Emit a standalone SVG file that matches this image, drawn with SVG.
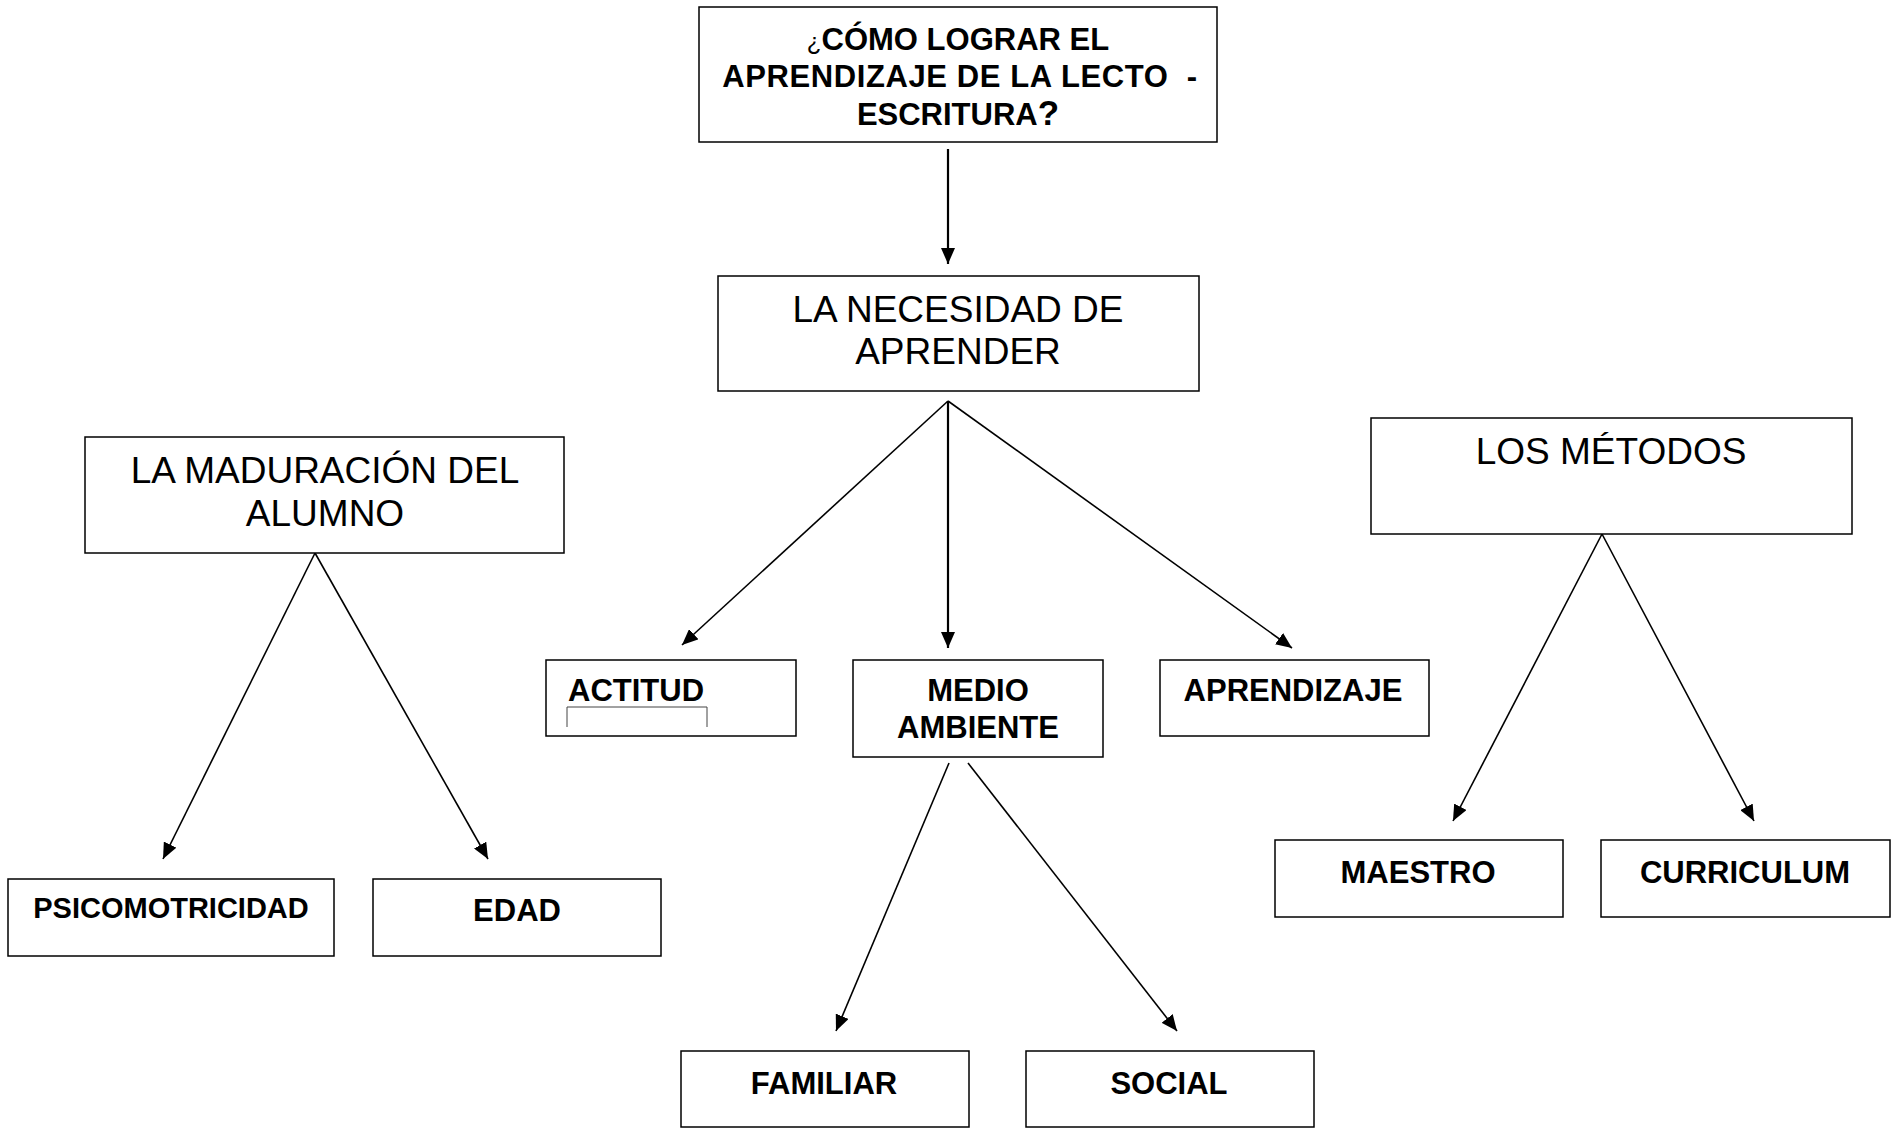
<svg xmlns="http://www.w3.org/2000/svg" width="1899" height="1129" viewBox="0 0 1899 1129">
<style>
.box{fill:#fff;stroke:#000;stroke-width:1.5}
.t{font-family:"Liberation Sans",Arial,sans-serif;fill:#000;text-anchor:middle}
.b{font-weight:bold;font-size:31px}
.r{font-size:37px}
.c{fill:none;stroke:#000;stroke-width:1.6}
.c2{fill:none;stroke:#000;stroke-width:2.2}
</style>
<defs>
<marker id="ah" markerUnits="userSpaceOnUse" markerWidth="18" markerHeight="14" refX="16" refY="7" orient="auto">
<path d="M0,0 L16,7 L0,14 z" fill="#000"/>
</marker>
</defs>
<rect width="1899" height="1129" fill="#fff"/>
<g id="connectors">
<line class="c2" x1="948" y1="149" x2="948" y2="264" marker-end="url(#ah)"/>
<line class="c" x1="948" y1="401" x2="682" y2="645" marker-end="url(#ah)"/>
<line class="c2" x1="948" y1="401" x2="948" y2="648" marker-end="url(#ah)"/>
<line class="c" x1="948" y1="401" x2="1292" y2="648" marker-end="url(#ah)"/>
<line class="c" x1="315" y1="553" x2="163" y2="859" marker-end="url(#ah)"/>
<line class="c" x1="315" y1="553" x2="488" y2="859" marker-end="url(#ah)"/>
<line class="c" x1="949" y1="763" x2="836" y2="1031" marker-end="url(#ah)"/>
<line class="c" x1="968" y1="763" x2="1177" y2="1031" marker-end="url(#ah)"/>
<line class="c" x1="1602" y1="534" x2="1453" y2="821" marker-end="url(#ah)"/>
<line class="c" x1="1602" y1="534" x2="1754" y2="821" marker-end="url(#ah)"/>
</g>
<g id="n-top">
<rect class="box" x="699" y="7" width="518" height="135"/>
<text class="t b" x="958" y="50"><tspan style="font-size:24px;font-weight:normal">¿</tspan>CÓMO LOGRAR EL</text>
<text class="t b" x="960" y="87" xml:space="preserve" letter-spacing="0.6">APRENDIZAJE DE LA LECTO  -</text>
<text class="t b" x="958" y="125">ESCRITURA<tspan style="font-size:35px">?</tspan></text>
</g>
<g id="n-necesidad">
<rect class="box" x="718" y="276" width="481" height="115"/>
<text class="t r" x="958" y="322">LA NECESIDAD DE</text>
<text class="t r" x="958" y="364">APRENDER</text>
</g>
<g id="n-maduracion">
<rect class="box" x="85" y="437" width="479" height="116"/>
<text class="t r" x="325" y="483">LA MADURACIÓN DEL</text>
<text class="t r" x="325" y="526">ALUMNO</text>
</g>
<g id="n-metodos">
<rect class="box" x="1371" y="418" width="481" height="116"/>
<text class="t r" x="1611" y="464">LOS MÉTODOS</text>
</g>
<g id="n-actitud">
<rect class="box" x="546" y="660" width="250" height="76"/>
<text class="t b" x="568" y="701" style="text-anchor:start">ACTITUD</text>
<path d="M567,727 V707 H707 V727" fill="none" stroke="#444" stroke-width="1"/>
</g>
<g id="n-medio">
<rect class="box" x="853" y="660" width="250" height="97"/>
<text class="t b" x="978" y="701">MEDIO</text>
<text class="t b" x="978" y="738">AMBIENTE</text>
</g>
<g id="n-aprendizaje">
<rect class="box" x="1160" y="660" width="269" height="76"/>
<text class="t b" x="1293" y="701">APRENDIZAJE</text>
</g>
<g id="n-psico">
<rect class="box" x="8" y="879" width="326" height="77"/>
<text class="t b" x="171" y="918" style="font-size:29px">PSICOMOTRICIDAD</text>
</g>
<g id="n-edad">
<rect class="box" x="373" y="879" width="288" height="77"/>
<text class="t b" x="517" y="921">EDAD</text>
</g>
<g id="n-familiar">
<rect class="box" x="681" y="1051" width="288" height="76"/>
<text class="t b" x="824" y="1094">FAMILIAR</text>
</g>
<g id="n-social">
<rect class="box" x="1026" y="1051" width="288" height="76"/>
<text class="t b" x="1169" y="1094">SOCIAL</text>
</g>
<g id="n-maestro">
<rect class="box" x="1275" y="840" width="288" height="77"/>
<text class="t b" x="1418" y="883">MAESTRO</text>
</g>
<g id="n-curriculum">
<rect class="box" x="1601" y="840" width="289" height="77"/>
<text class="t b" x="1745" y="883">CURRICULUM</text>
</g>
</svg>
